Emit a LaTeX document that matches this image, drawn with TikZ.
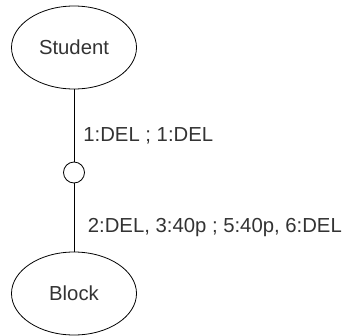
\documentclass[tikz,border=0pt]{standalone}
\usepackage{fontspec}
\setmainfont{Liberation Sans}
\usetikzlibrary{shapes.geometric}
\begin{document}
\begin{tikzpicture}[x=1pt, y=-1pt, line width=.8pt,
        every node/.style={font=\fontsize{20.3}{24}\selectfont, text=black!80},
        entity/.style={draw, ellipse, minimum width=125pt, minimum height=83pt, inner sep=0pt},
        joint/.style={draw, circle, minimum size=21pt, inner sep=0pt},
        rolelabel/.style={anchor=base west, inner sep=0pt}]
                \useasboundingbox (0, 0) rectangle (348, 335);

                \node[entity] (student) at (74, 47.5) {Student};
                \node[joint] (mid) at (74, 172.5) {};
                \node[entity] (block) at (74, 293.5) {Block};

                \draw (student) -- (mid);
                \draw (mid) -- (block);

                \node[rolelabel] (upper) at (83, 141) {1:DEL ; 1:DEL};
                \node[rolelabel] (lower) at (87.5, 232) {2:DEL, 3:40p ; 5:40p, 6:DEL};
            \end{tikzpicture}
\end{document}
